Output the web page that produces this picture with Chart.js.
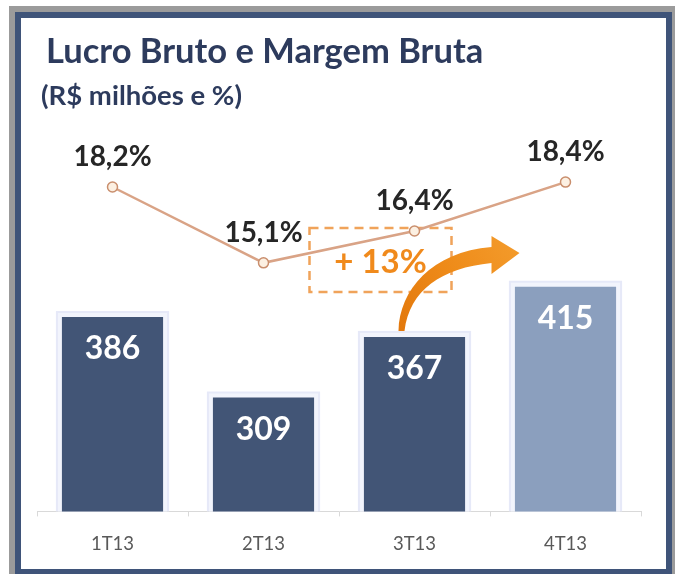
<!DOCTYPE html>
<html>
<head>
<meta charset="utf-8">
<script src="https://cdn.jsdelivr.net/npm/chart.js@4.4.1/dist/chart.umd.min.js"></script>
<style>
html,body{margin:0;padding:0;background:#fff;}
#wrap{position:absolute;left:0;top:0;width:679px;height:574px;}
</style>
</head>
<body>
<div id="wrap"><canvas id="c" width="679" height="574"></canvas></div>
<script>
// ---- data ----
const categories = ['1T13', '2T13', '3T13', '4T13'];
const lucroBruto = [386, 309, 367, 415];
const margemBruta = [18.2, 15.1, 16.4, 18.4];
const margemLabels = ['18,2%', '15,1%', '16,4%', '18,4%'];
const titleText = 'Lucro Bruto e Margem Bruta';
const subtitleText = '(R$ milhões e %)';
const growthText = '+ 13%';

const barColors = ['#425576', '#425576', '#425576', '#8b9fbe'];
const NAVY = '#2d3b5d';

const framePlugin = {
  id: 'frame',
  beforeDraw(chart) {
    const ctx = chart.ctx;
    ctx.save();
    ctx.fillStyle = '#ffffff';
    ctx.fillRect(0, 0, 679, 574);
    ctx.fillStyle = '#9b9b9b';
    ctx.fillRect(9, 6, 666, 580);
    ctx.fillStyle = '#3f5479';
    ctx.fillRect(15, 12, 657, 570);
    ctx.fillStyle = '#ffffff';
    ctx.fillRect(21, 18, 645, 551);
    // title
    ctx.fillStyle = NAVY;
    ctx.textBaseline = 'alphabetic';
    ctx.textAlign = 'left';
    ctx.font = 'bold 34.5px Lato';
    ctx.fillText(titleText, 46, 63);
    ctx.font = 'bold 27.5px Lato';
    ctx.fillText(subtitleText, 41, 105);
    ctx.restore();
  },
  beforeDatasetsDraw(chart) {
    const ctx = chart.ctx;
    const bars = chart.getDatasetMeta(0).data;
    const bottomPx = chart.chartArea.bottom;
    ctx.save();
    // halos around bars
    bars.forEach(b => {
      const w = b.width;
      const x0 = b.x - w / 2 - 6, x1 = b.x + w / 2 + 6;
      const y0 = b.y - 6, y1 = bottomPx;
      ctx.fillStyle = '#e6e9f8';
      ctx.fillRect(x0, y0, x1 - x0, y1 - y0);
      ctx.fillStyle = '#f2f4fc';
      ctx.fillRect(x0 + 2, y0 + 2, x1 - x0 - 4, y1 - y0 - 2);
    });
    // dashed box
    const pts = chart.getDatasetMeta(1).data;
    const p2 = pts[1], p3 = pts[2];
    const left = p2.x + 46, right = p3.x + 37;
    const top = p3.y - 3, bottom = p3.y + 61;
    ctx.setLineDash([9, 6]);
    ctx.lineWidth = 2.5;
    ctx.strokeStyle = '#f0a35a';
    ctx.strokeRect(left, top, right - left, bottom - top);
    ctx.setLineDash([]);
    ctx.fillStyle = '#f08a1c';
    ctx.font = 'bold 33px Lato';
    ctx.textAlign = 'center';
    ctx.textBaseline = 'middle';
    ctx.fillText(growthText, (left + right) / 2, (top + bottom) / 2 + 2);
    ctx.restore();
  },
  afterDatasetsDraw(chart) {
    const ctx = chart.ctx;
    const bars = chart.getDatasetMeta(0).data;
    const pts = chart.getDatasetMeta(1).data;
    ctx.save();
    // arrow anchored to bar 3 top
    const a = bars[2];
    const ox = a.x, oy = a.y;
    const grad = ctx.createLinearGradient(ox - 16, oy - 6, ox + 105, oy - 84);
    grad.addColorStop(0, '#e2780c');
    grad.addColorStop(0.5, '#ee8a18');
    grad.addColorStop(1, '#f39a2a');
    ctx.fillStyle = grad;
    ctx.beginPath();
    ctx.moveTo(ox - 16, oy - 6);
    ctx.bezierCurveTo(ox - 15, oy - 47, ox + 17, oy - 85, ox + 77, oy - 90);
    ctx.lineTo(ox + 77, oy - 101);
    ctx.lineTo(ox + 105, oy - 84);
    ctx.lineTo(ox + 77, oy - 63);
    ctx.lineTo(ox + 77, oy - 74);
    ctx.bezierCurveTo(ox + 27, oy - 69, ox - 5, oy - 47, ox - 10, oy - 6);
    ctx.closePath();
    ctx.fill();
    // bar value labels
    ctx.fillStyle = '#ffffff';
    ctx.font = 'bold 32px Lato';
    ctx.textAlign = 'center';
    ctx.textBaseline = 'middle';
    bars.forEach((b, i) => {
      ctx.fillText(String(lucroBruto[i]), b.x, b.y + 32);
    });
    // margin labels
    ctx.fillStyle = '#262626';
    ctx.font = 'bold 28px Lato';
    pts.forEach((p, i) => {
      ctx.fillText(margemLabels[i], p.x, p.y - 30);
    });
    ctx.restore();
  }
};

new Chart(document.getElementById('c'), {
  type: 'bar',
  data: {
    labels: categories,
    datasets: [
      {
        type: 'bar',
        data: lucroBruto,
        backgroundColor: barColors,
        borderWidth: 0,
        barPercentage: 0.67,
        categoryPercentage: 1.0,
        yAxisID: 'y',
        order: 2
      },
      {
        type: 'line',
        data: margemBruta,
        yAxisID: 'y2',
        borderColor: '#d9a386',
        borderWidth: 2.5,
        pointRadius: 5,
        pointBackgroundColor: '#fcf0e2',
        pointBorderColor: '#c98e6d',
        pointBorderWidth: 1.5,
        tension: 0,
        order: 1
      }
    ]
  },
  options: {
    responsive: false,
    animation: false,
    devicePixelRatio: 1,
    layout: { padding: { left: 37, right: 38, top: 130, bottom: 1.4 } },
    plugins: { legend: { display: false }, tooltip: { enabled: false }, title: { display: false } },
    scales: {
      x: {
        offset: true,
        grid: { display: true, drawOnChartArea: false, drawTicks: true, tickLength: 5, color: '#d9d9d9', offset: true },
        border: { display: true, color: '#d9d9d9' },
        ticks: { color: '#595959', font: { family: 'Lato', size: 18.5 }, padding: 17 }
      },
      y: { display: false, min: 200, max: 565 },
      y2: { display: false, min: 4.94, max: 20.53, position: 'right' }
    }
  },
  plugins: [framePlugin]
});
</script>
</body>
</html>
